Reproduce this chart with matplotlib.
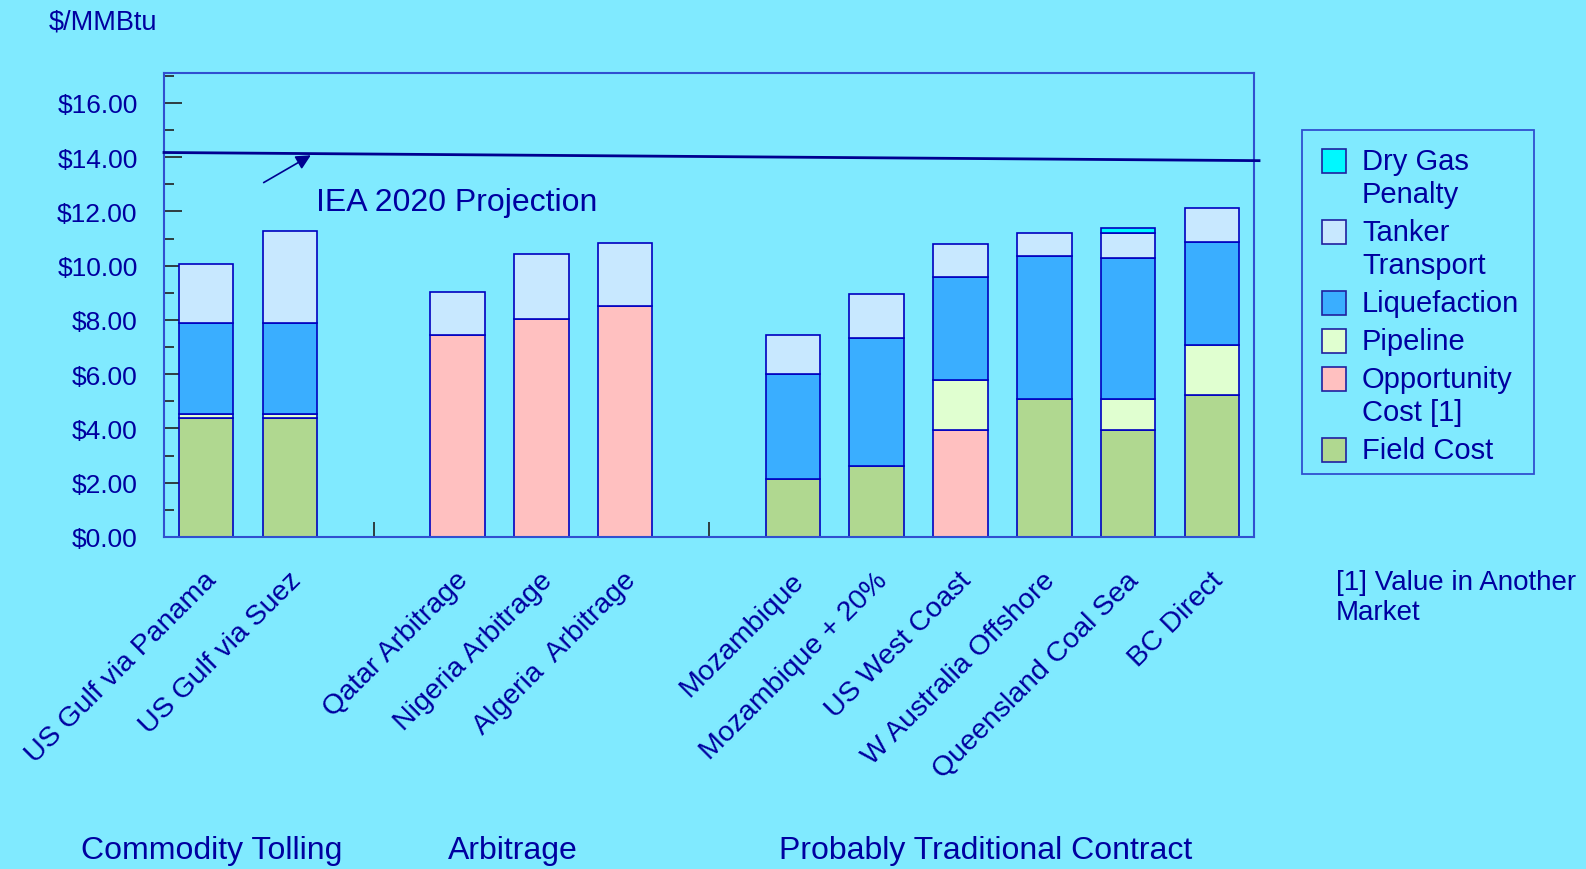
import numpy as np
import matplotlib
matplotlib.use('Agg')
import matplotlib.pyplot as plt
from matplotlib.patches import Rectangle
from matplotlib.ticker import MultipleLocator, FuncFormatter
from matplotlib.transforms import ScaledTranslation

plt.rcParams['font.family'] = ['Liberation Sans', 'DejaVu Sans']

# Data ($/MMBtu), gap slots left empty
categories = ['US Gulf via Panama', 'US Gulf via Suez', '',
              'Qatar Arbitrage', 'Nigeria Arbitrage', 'Algeria  Arbitrage', '',
              'Mozambique', 'Mozambique + 20%', 'US West Coast',
              'W Australia Offshore', 'Queensland Coal Sea', 'BC Direct']
field_cost   = [4.38, 4.38, 0, 0, 0, 0, 0, 2.12, 2.61, 0, 5.08, 3.95, 5.22]
opportunity  = [0, 0, 0, 7.46, 8.04, 8.53, 0, 0, 0, 3.95, 0, 0, 0]
pipeline     = [0.14, 0.14, 0, 0, 0, 0, 0, 0, 0, 1.83, 0, 1.12, 1.84]
liquefaction = [3.38, 3.38, 0, 0, 0, 0, 0, 3.88, 4.73, 3.81, 5.28, 5.22, 3.81]
tanker       = [2.17, 3.37, 0, 1.56, 2.39, 2.32, 0, 1.46, 1.60, 1.19, 0.85, 0.92, 1.25]
dry_gas      = [0, 0, 0, 0, 0, 0, 0, 0, 0, 0, 0, 0.19, 0]

series_names = ['Field Cost', 'Opportunity\nCost [1]', 'Pipeline', 'Liquefaction',
                'Tanker\nTransport', 'Dry Gas\nPenalty']
series_colors = ['#B0D890', '#FFC0C0', '#E0FFD0', '#3AAEFF', '#C8E8FF', '#00F8FF']

groups = ['Commodity Tolling', 'Arbitrage', 'Probably Traditional Contract']
group_x = [212, 513, 986]  # pixel centres

iea_start, iea_end = 14.17, 13.87

bg = '#80EAFF'
txt = '#0000A0'
edge = '#0000C0'

fig = plt.figure(figsize=(15.86, 8.70), dpi=100, facecolor=bg)
ax = fig.add_axes([164 / 1586, 1 - 538 / 870, (1254 - 164) / 1586, (538 - 74) / 870])
ax.set_facecolor(bg)

x = np.arange(len(categories))
series = [field_cost, opportunity, pipeline, liquefaction, tanker, dry_gas]
bottom = np.zeros(len(categories))
for vals, col in zip(series, series_colors):
    vals = np.array(vals)
    mask = vals > 0
    ax.bar(x[mask], vals[mask], width=0.65, bottom=bottom[mask], color=col,
           edgecolor=edge, linewidth=1.2, zorder=2)
    bottom += vals

ax.set_xlim(-0.5, len(categories) - 0.5)
ax.set_ylim(0, 17.1)

for s in ax.spines.values():
    s.set_color('#3050D0')
    s.set_linewidth(1.5)

ax.yaxis.set_major_locator(MultipleLocator(2))
ax.yaxis.set_minor_locator(MultipleLocator(1))
ax.yaxis.set_major_formatter(FuncFormatter(lambda v, p: f'${v:.2f}'))
ax.tick_params(axis='y', which='major', direction='in', length=13, width=1.2,
               color='#202020', labelsize=19, labelcolor=txt, pad=19)
ax.tick_params(axis='y', which='minor', direction='in', length=7, width=1.2,
               color='#202020')

ax.set_xticks(x)
ax.set_xticklabels(categories, rotation=45, ha='right', va='center',
                   rotation_mode='anchor')
ax.tick_params(axis='x', direction='in', length=11, width=1.2, color='#202020',
               labelsize=20.5, labelcolor=txt, pad=28)
shift = ScaledTranslation(7 / 100, 0, fig.dpi_scale_trans)
for lab in ax.get_xticklabels():
    lab.set_transform(lab.get_transform() + shift)

# IEA projection line
ax.plot([-0.5, 12.56], [iea_start, iea_end], color='#000090', lw=2, clip_on=False, zorder=3)
ax.annotate('', xy=(1.28, 14.12), xytext=(0.66, 13.01),
            arrowprops=dict(arrowstyle='-|>', color='#000090', lw=1.2,
                            mutation_scale=22))
ax.text(1.31, 12.34, 'IEA 2020 Projection', fontsize=23, color=txt,
        ha='left', va='center')

fig.text(49 / 1586, 1 - 22 / 870, '$/MMBtu', fontsize=19.5, color=txt,
         ha='left', va='center')

for g, gx in zip(groups, group_x):
    fig.text(gx / 1586, 1 - 851 / 870, g, fontsize=23, color=txt,
             ha='center', va='center')

# Legend, drawn by hand so the swatch sits on the first line
fig.patches.append(Rectangle((1302 / 1586, 1 - 475 / 870), 232 / 1586, 344 / 870,
                             transform=fig.transFigure, facecolor='none',
                             edgecolor='#3050D0', lw=1.3))
yline = 162
for name, col in zip(series_names[::-1], series_colors[::-1]):
    fig.patches.append(Rectangle((1322 / 1586, 1 - (yline + 12) / 870), 24 / 1586, 24 / 870,
                                 transform=fig.transFigure, facecolor=col,
                                 edgecolor='#2020A0', lw=1.2))
    for i, line in enumerate(name.split('\n')):
        fig.text(1362 / 1586, 1 - (yline + 33 * i) / 870, line, fontsize=21,
                 color=txt, ha='left', va='center')
    yline += 33 * (len(name.split('\n')) - 1) + 38

fig.text(1336 / 1586, 1 - 583 / 870, '[1] Value in Another', fontsize=20,
         color=txt, ha='left', va='center')
fig.text(1336 / 1586, 1 - 613 / 870, 'Market', fontsize=20,
         color=txt, ha='left', va='center')

fig.savefig('out.png', dpi=100, facecolor=bg)
